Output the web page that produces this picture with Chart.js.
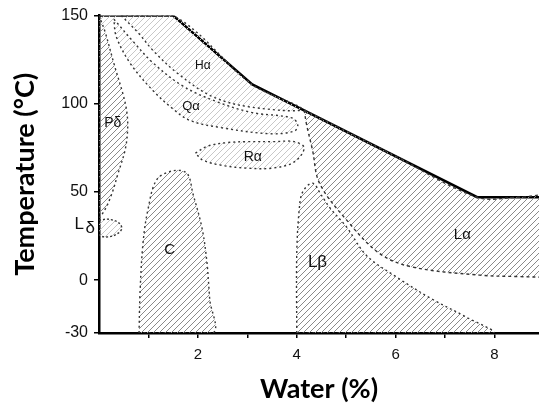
<!DOCTYPE html>
<html>
<head>
<meta charset="utf-8">
<script src="https://cdn.jsdelivr.net/npm/chart.js@4.4.1/dist/chart.umd.min.js"></script>
<style>
  html, body { margin: 0; padding: 0; background: #fff; }
  #wrap { width: 539px; height: 405px; }
</style>
</head>
<body>
<div id="wrap"><canvas id="myChart"></canvas></div>
<script>
// axis ticks
const yTicks = [-30, 0, 50, 100, 150];
const xTicks = [1, 2, 3, 4, 5, 6, 7, 8];

// phase boundaries, [water %, temperature °C]
const topEdge = [[0, 150], [1.5, 150], [3.1, 111], [7.65, 47], [9.3, 47]];
const hAlphaZone = [[0.45, 150], [1.5, 150], [3.1, 111], [4.1, 97], [3.1, 98], [2.3, 104], [1.6, 117], [1.1, 130], [0.8, 140], [0.45, 150]];
const topCorner = [[0, 150], [0.45, 150], [0.3, 148], [0.12, 141], [0, 150]];
const qAlphaZone = [[0.3, 148], [0.7, 135], [1.1, 123], [1.7, 110], [2.4, 101], [3.1, 95], [3.9, 92], [4.02, 88], [3.95, 84.5], [3.45, 83], [2.44, 86.6], [1.84, 90.5], [1.5, 97], [1.09, 107.5], [0.63, 123], [0.35, 138], [0.3, 148]];
const pDeltaZone = [[0, 150], [0.12, 141], [0.32, 121], [0.48, 106], [0.56, 96], [0.58, 86], [0.53, 74], [0.38, 60], [0.26, 49], [0.12, 40], [0, 36], [0, 150]];
const lDeltaZone = [[0, 34], [0.2, 34.5], [0.4, 32.5], [0.46, 29], [0.32, 25.5], [0.12, 24.5], [0, 26], [0, 34]];
const rAlphaZone = [[1.95, 72], [2.2, 76], [2.6, 78], [3.0, 78.5], [3.5, 78.5], [3.95, 78.5], [4.15, 75], [3.95, 67], [3.5, 63.5], [3.0, 63.5], [2.5, 65], [2.1, 68], [1.95, 72]];
const cZone = [[0.81, -30], [0.83, -7], [0.89, 21], [0.99, 40], [1.17, 57], [1.5, 62], [1.78, 60.5], [1.9, 49], [2.08, 30], [2.18, 11], [2.24, -11], [2.3, -30], [0.81, -30]];
const lBetaZone = [[4.0, -30], [4.0, 15], [4.05, 40], [4.12, 50], [4.32, 55], [4.5, 48], [4.67, 41], [5.01, 30], [5.41, 14], [6.02, 1.7], [6.75, -11], [7.43, -21], [7.96, -30], [4.0, -30]];
const lAlphaZone = [[4.15, 96.5], [5.9, 71.8], [7.65, 47], [8.5, 47], [9.6, 47], [9.6, 1.5], [9.1, 1.6], [8.5, 2], [7.7, 2.8], [6.34, 7.4], [5.68, 15], [5.01, 34], [4.46, 55], [4.32, 73.6], [4.2, 88], [4.15, 96.5]];

// phase names and where they sit
const phaseNames = ['Hα', 'Qα', 'Pδ', 'Rα', 'C', 'Lβ', 'Lα', 'L'];
const phaseSubs = ['', '', '', '', '', '', '', 'δ'];
const phaseX = [2.1, 1.86, 0.28, 3.11, 1.43, 4.42, 7.35, -0.3];
const phaseY = [121.7, 98.5, 89, 69.6, 17, 10, 25.5, 31];
const phaseSize = [12, 13, 14, 14, 15, 17, 15, 17];

function hatch(color, gap) {
    const c = document.createElement('canvas');
    c.width = gap;
    c.height = gap;
    const g = c.getContext('2d');
    g.strokeStyle = color;
    g.lineWidth = 1;
    g.beginPath();
    g.moveTo(0, gap); g.lineTo(gap, 0);
    g.moveTo(-1, 1); g.lineTo(1, -1);
    g.moveTo(gap - 1, gap + 1); g.lineTo(gap + 1, gap - 1);
    g.stroke();
    return g.createPattern(c, 'repeat');
}

const pts = arr => arr.map(p => ({ x: p[0], y: p[1] }));

function zone(arr, fillColor, dash, width) {
    return {
        data: pts(arr),
        fill: 'shape',
        backgroundColor: fillColor,
        borderColor: '#333',
        borderWidth: width === undefined ? 1.4 : width,
        borderDash: dash,
        pointRadius: 0,
        tension: 0.35
    };
}

const phaseLabels = {
    id: 'phaseLabels',
    afterDatasetsDraw(chart) {
        const { ctx, scales } = chart;
        ctx.save();
        ctx.fillStyle = '#111';
        ctx.textAlign = 'center';
        ctx.textBaseline = 'middle';
        phaseNames.forEach((name, i) => {
            const px = scales.x.getPixelForValue(phaseX[i]);
            const py = scales.y.getPixelForValue(phaseY[i]);
            ctx.font = phaseSize[i] + 'px "Liberation Sans", Arial, sans-serif';
            if (phaseSubs[i]) {
                ctx.fillText(name, px - 5, py - 1);
                ctx.fillText(phaseSubs[i], px + 6, py + 3);
            } else {
                ctx.fillText(name, px, py);
            }
        });
        ctx.restore();
    }
};

function mainEvent() {
    const ctx = document.querySelector('#myChart');
    const dark = hatch('#8a8a8a', 6);
    const light = hatch('#c8c8c8', 6);

    new Chart(ctx, {
        type: 'line',
        data: {
            datasets: [
                zone(topCorner, light, [], 0),
                zone(hAlphaZone, light, [2, 3]),
                zone(qAlphaZone, light, [2, 3]),
                zone(pDeltaZone, dark, [2, 3]),
                zone(lDeltaZone, light, [2, 2]),
                zone(rAlphaZone, light, [2, 3]),
                zone(cZone, dark, [2, 3]),
                zone(lBetaZone, dark, [2, 3]),
                zone(lAlphaZone, dark, [3, 3]),
                {
                    data: pts(topEdge),
                    fill: false,
                    borderColor: '#000',
                    borderWidth: 2.5,
                    pointRadius: 0,
                    tension: 0
                }
            ]
        },
        options: {
            responsive: true,
            maintainAspectRatio: false,
            animation: false,
            parsing: false,
            layout: { padding: { top: 15, right: 0, bottom: 0, left: 0 } },
            plugins: {
                legend: { display: false },
                tooltip: { enabled: false }
            },
            scales: {
                x: {
                    type: 'linear',
                    min: 0,
                    max: 8.9,
                    afterBuildTicks: scale => { scale.ticks = xTicks.map(v => ({ value: v })); },
                    afterFit: scale => { scale.height = 72; },
                    ticks: {
                        color: '#111',
                        padding: 8,
                        font: { family: '"Liberation Sans", Arial, sans-serif', size: 15 },
                        callback: v => (v % 2 === 0 ? v : '')
                    },
                    grid: { drawOnChartArea: false, drawTicks: true, tickLength: 5, color: '#000', lineWidth: 1.5 },
                    border: { display: true, color: '#000', width: 2.5 },
                    title: {
                        display: true,
                        text: 'Water (%)',
                        color: '#000',
                        padding: { top: 7, bottom: 0 },
                        font: { family: 'Lato', weight: 'bold', size: 27 }
                    }
                },
                y: {
                    type: 'linear',
                    min: -30,
                    max: 150,
                    afterBuildTicks: scale => { scale.ticks = yTicks.map(v => ({ value: v })); },
                    afterFit: scale => { scale.width = 99; },
                    ticks: {
                        color: '#111',
                        padding: 6,
                        font: { family: '"Liberation Sans", Arial, sans-serif', size: 16 }
                    },
                    grid: { drawOnChartArea: false, drawTicks: true, tickLength: 5, color: '#000', lineWidth: 1.5 },
                    border: { display: true, color: '#000', width: 2.5 },
                    title: {
                        display: true,
                        text: 'Temperature (°C)',
                        color: '#000',
                        padding: { top: 9, bottom: 0 },
                        font: { family: 'Lato', weight: 'bold', size: 27 }
                    }
                }
            }
        },
        plugins: [phaseLabels]
    });
}

document.addEventListener("DOMContentLoaded", () => mainEvent());
</script>
</body>
</html>
